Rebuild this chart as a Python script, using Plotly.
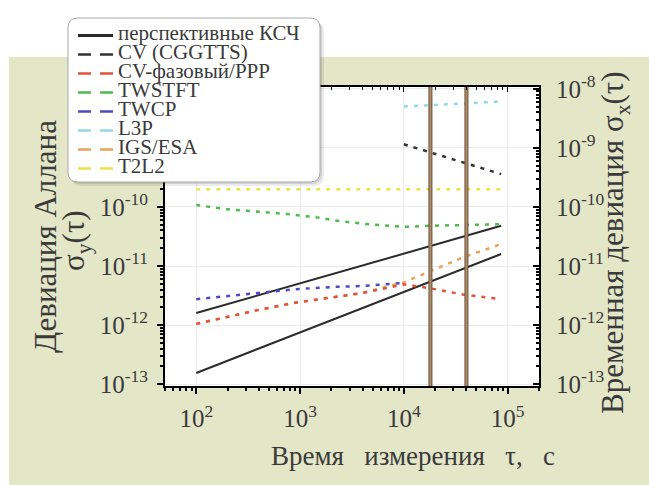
import math
import plotly.graph_objects as go

# ---- data: measurement time tau (s) and deviation values ----
ksch_tau = [100, 86400]
ksch_upper = [1.6e-12, 4.8e-11]
ksch_lower = [1.55e-13, 1.6e-11]

cv_cggtts_tau = [10000, 86400]
cv_cggtts = [1.15e-9, 3.6e-10]

cv_phase_tau = [100, 380, 900, 2200, 4000, 10000, 18000, 37000, 86400]
cv_phase = [1.05e-12, 1.78e-12, 2.4e-12, 3.0e-12, 3.5e-12, 4.9e-12, 4.2e-12, 3.3e-12, 2.75e-12]

twstft_tau = [100, 200, 400, 750, 1500, 2200, 4000, 6600, 10000, 17500, 36000, 86400]
twstft = [1.08e-10, 9.1e-11, 8.3e-11, 7.6e-11, 6.6e-11, 5.9e-11, 5.2e-11, 4.8e-11, 4.6e-11, 4.8e-11, 4.9e-11, 5.1e-11]

twcp_tau = [100, 380, 900, 2200, 4000, 10000]
twcp = [2.75e-12, 3.45e-12, 4.05e-12, 4.45e-12, 4.6e-12, 5.2e-12]

l3p_tau = [10000, 86400]
l3p = [5.0e-9, 6.1e-9]

igs_tau = [100, 380, 900, 2200, 4000, 10000, 18000, 37000, 86400]
igs = [1.05e-12, 1.78e-12, 2.4e-12, 3.0e-12, 3.5e-12, 5.3e-12, 8.3e-12, 1.4e-11, 2.35e-11]

t2l2_tau = [100, 86400]
t2l2 = [2.0e-10, 2.0e-10]

marker_tau = [18000, 40000]

legend_names = ["перспективные КСЧ", "CV (CGGTTS)", "CV-фазовый/PPP", "TWSTFT",
                "TWCP", "L3P", "IGS/ESA", "T2L2"]

x_tick_vals = [1e2, 1e3, 1e4, 1e5]
x_tick_labels = ["10<sup>2</sup>", "10<sup>3</sup>", "10<sup>4</sup>", "10<sup>5</sup>"]
y_tick_vals = [1e-13, 1e-12, 1e-11, 1e-10, 1e-9, 1e-8]
y_tick_labels = ["10<sup>-13</sup>", "10<sup>-12</sup>", "10<sup>-11</sup>",
                 "10<sup>-10</sup>", "10<sup>-9</sup>", "10<sup>-8</sup>"]
# the upper left labels sit under the legend box
y_left_tick_labels = y_tick_labels[:4] + ["", ""]

left_title_lines = ["Девиация Аллана", "σ<sub>y</sub>(τ)"]
right_title = "Временная девиация σ<sub>x</sub>(τ)"
x_title = "Время\u00a0\u00a0 измерения\u00a0\u00a0 τ,\u00a0\u00a0 с"

# ---- styling ----
FONT = "Liberation Serif"
TXT = "#3a3a3a"
OLIVE = "#e3e6c7"
C_SOLID = "#2b2b2b"
C_CV = "#333333"
C_RED = "#e4523b"
C_GREEN = "#4dbb4d"
C_BLUE = "#4b4bc4"
C_CYAN = "#93d9e8"
C_ORANGE = "#e8a25a"
C_YELLOW = "#ece24a"
colors = [C_SOLID, C_CV, C_RED, C_GREEN, C_BLUE, C_CYAN, C_ORANGE, C_YELLOW]

W, H = 649, 485
ML, MR, MT, MB = 165, 110, 87, 99
PW, PH = W - ML - MR, H - MT - MB


def px_x(p):
    return (p - ML) / PW


def px_y(p):
    return (H - MB - p) / PH


X_RANGE = [math.log10(50), math.log10(2e5)]
Y_RANGE = [-13.03, -7.97]

SHORT_DASH = "4px,6px"
LONG_DASH = "13px,9px"

fig = go.Figure()


def curve(x, y, color, dash=None, width=2.5):
    fig.add_trace(go.Scatter(
        x=x, y=y, mode="lines", showlegend=False, hoverinfo="skip",
        line=dict(color=color, width=width, dash=dash or "solid")))


# data curves
curve(ksch_tau, ksch_upper, C_SOLID, width=2)
curve(ksch_tau, ksch_lower, C_SOLID, width=2)
curve(t2l2_tau, t2l2, C_YELLOW, SHORT_DASH)
curve(twstft_tau, twstft, C_GREEN, SHORT_DASH)
curve(twcp_tau, twcp, C_BLUE, SHORT_DASH)
curve(igs_tau, igs, C_ORANGE, SHORT_DASH)
curve(cv_phase_tau, cv_phase, C_RED, SHORT_DASH)
curve(l3p_tau, l3p, C_CYAN, SHORT_DASH)
curve(cv_cggtts_tau, cv_cggtts, C_CV, SHORT_DASH)

# vertical markers spanning the full height
y_span = [10 ** (Y_RANGE[0] - 1), 10 ** (Y_RANGE[1] + 1)]
for t in marker_tau:
    curve([t, t], y_span, "#6e5034", width=4)
    curve([t, t], y_span, "#ad8e6b", width=2)

# legend entries
for i, (name, col) in enumerate(zip(legend_names, colors)):
    fig.add_trace(go.Scatter(
        x=[None], y=[None], mode="lines",
        name='<span style="font-size:21px">' + name + "</span>",
        line=dict(color=col, width=2.8 if i == 0 else 2.5,
                  dash="solid" if i == 0 else LONG_DASH)))

# carrier trace for the right and top axes
fig.add_trace(go.Scatter(x=[None], y=[None], xaxis="x2", yaxis="y2",
                         showlegend=False, hoverinfo="skip"))


def rounded_path(x0, y0, x1, y1, r):
    def P(a, b):
        return f"{px_x(a):.5f},{px_y(b):.5f}"
    return " ".join([
        f"M{P(x0 + r, y0)}", f"L{P(x1 - r, y0)}", f"Q{P(x1, y0)} {P(x1, y0 + r)}",
        f"L{P(x1, y1 - r)}", f"Q{P(x1, y1)} {P(x1 - r, y1)}",
        f"L{P(x0 + r, y1)}", f"Q{P(x0, y1)} {P(x0, y1 - r)}",
        f"L{P(x0, y0 + r)}", f"Q{P(x0, y0)} {P(x0 + r, y0)}Z",
    ])


shapes = [
    # white band above and left of the tinted panel
    dict(type="rect", xref="paper", yref="paper", layer="below",
         x0=px_x(0), x1=px_x(W), y0=px_y(57), y1=px_y(0),
         fillcolor="white", line=dict(width=0)),
    dict(type="rect", xref="paper", yref="paper", layer="below",
         x0=px_x(0), x1=px_x(9), y0=px_y(H), y1=px_y(0),
         fillcolor="white", line=dict(width=0)),
    # legend box with soft shadow
    dict(type="path", xref="paper", yref="paper", layer="above",
         path=rounded_path(71, 22, 324, 186, 10),
         fillcolor="rgba(0,0,0,0.08)", line=dict(width=0)),
    dict(type="path", xref="paper", yref="paper", layer="above",
         path=rounded_path(70, 20, 322, 184, 10),
         fillcolor="rgba(0,0,0,0.10)", line=dict(width=0)),
    dict(type="path", xref="paper", yref="paper", layer="above",
         path=rounded_path(68, 18, 320, 182, 10),
         fillcolor="white", line=dict(color="#a8a8a8", width=1)),
]

axis_common = dict(
    type="log", showline=True, linecolor="black", linewidth=2,
    tickfont=dict(family=FONT, size=25, color=TXT),
    tickcolor="black", tickwidth=1.5, ticklen=6,
)

title_font = dict(family=FONT, size=27, color=TXT)
side_title_font = dict(family=FONT, size=31, color=TXT)


def side_title(text, x, y):
    return dict(text=text, xref="paper", yref="paper", x=px_x(x), y=px_y(y),
                textangle=-90, xanchor="center", yanchor="middle",
                showarrow=False, font=side_title_font)


fig.update_layout(
    width=W, height=H, autosize=False,
    margin=dict(l=ML, r=MR, t=MT, b=MB, pad=0),
    paper_bgcolor=OLIVE, plot_bgcolor="white",
    font=dict(family=FONT, color=TXT),
    shapes=shapes,
    showlegend=True,
    legend=dict(x=px_x(73), y=px_y(21), xanchor="left", yanchor="top",
                bgcolor="rgba(0,0,0,0)", borderwidth=0,
                font=dict(family=FONT, size=12, color=TXT),
                itemwidth=35, tracegroupgap=0),
    xaxis=dict(
        **axis_common, range=X_RANGE, mirror=True,
        tickvals=x_tick_vals, ticktext=x_tick_labels, ticks="outside",
        ticklabelstandoff=3,
        minor=dict(ticks="outside", ticklen=3, dtick="D1", tickcolor="black", showgrid=False),
        showgrid=True, gridcolor="#ececec", gridwidth=1, zeroline=False,
    ),
    xaxis2=dict(
        type="log", range=X_RANGE, overlaying="x", side="top", anchor="y",
        showticklabels=False, ticks="inside", ticklen=5, tickcolor="black",
        tickvals=x_tick_vals, showgrid=False, showline=False,
        minor=dict(ticks="inside", ticklen=3, dtick="D1", tickcolor="black", showgrid=False),
    ),
    yaxis=dict(
        **axis_common, range=Y_RANGE, mirror=True,
        tickvals=y_tick_vals, ticktext=y_left_tick_labels, ticks="outside",
        ticklabelstandoff=4,
        minor=dict(ticks="outside", ticklen=3, dtick="D1", tickcolor="black", showgrid=False),
        showgrid=True, gridcolor="#ececec", gridwidth=1, zeroline=False,
    ),
    yaxis2=dict(
        **axis_common, range=Y_RANGE, overlaying="y", side="right", anchor="x",
        tickvals=y_tick_vals, ticktext=y_tick_labels, ticks="inside",
        ticklabelstandoff=10,
        minor=dict(ticks="inside", ticklen=3, dtick="D1", tickcolor="black", showgrid=False),
        showgrid=False, zeroline=False,
    ),
    annotations=[
        dict(text=x_title, xref="paper", yref="paper", x=px_x(413), y=px_y(456),
             xanchor="center", yanchor="middle", showarrow=False, font=title_font),
        side_title(left_title_lines[0], 45, 237),
        side_title(left_title_lines[1], 76, 241),
        side_title(right_title, 615, 243),
    ],
)

fig.write_html("out.html")
